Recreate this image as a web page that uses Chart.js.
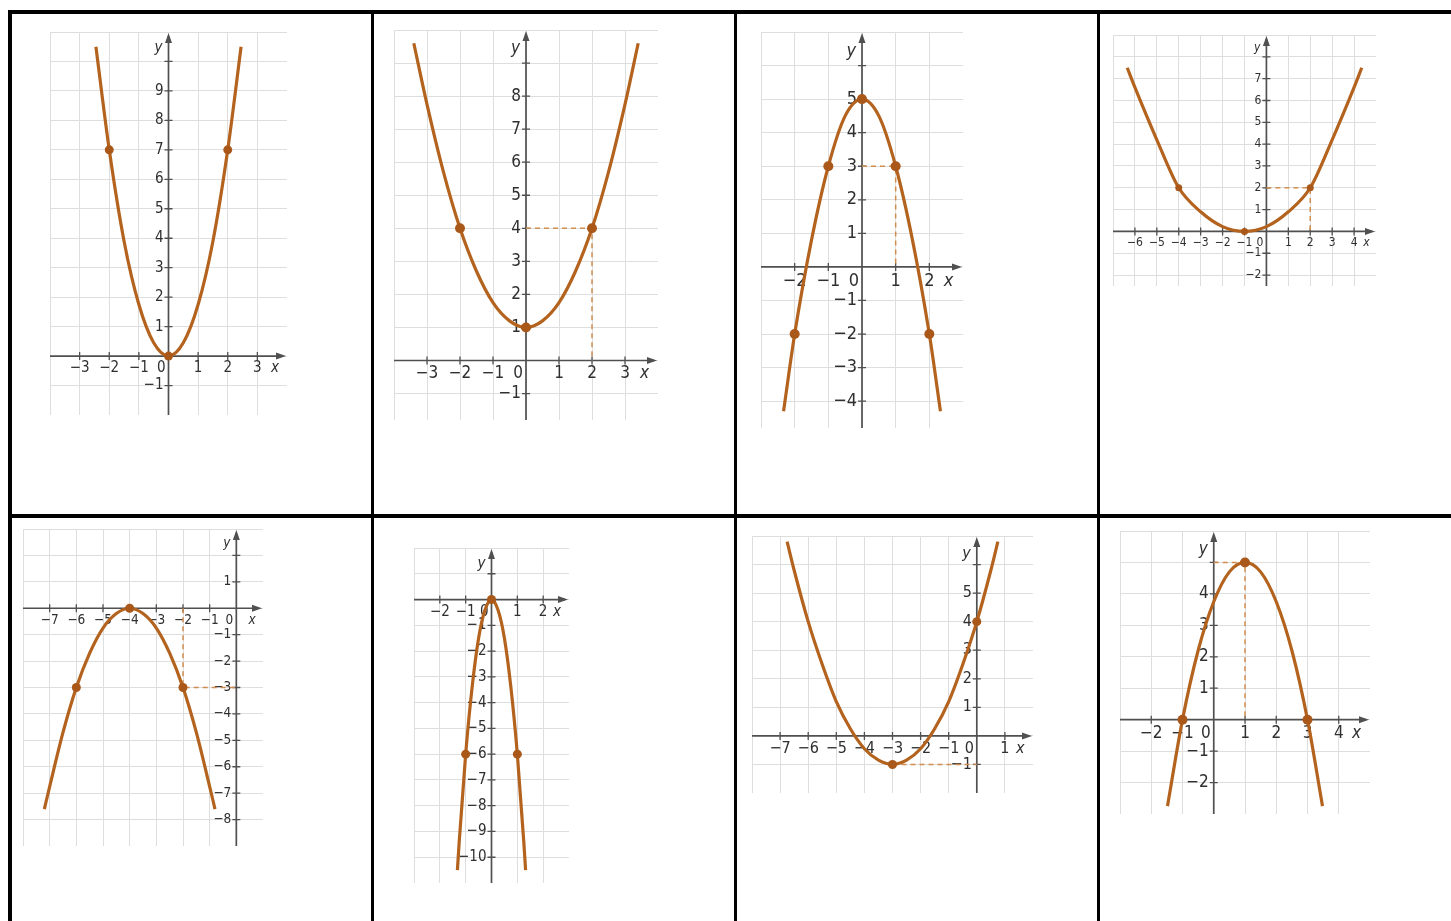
<!DOCTYPE html>
<html lang="en">
<head>
<meta charset="UTF-8">
<title>Parabola graphs</title>
<script src="https://cdn.jsdelivr.net/npm/chart.js"></script>
<style>
  body { margin: 0; background: #fff; }
  #page { position: relative; width: 1451px; height: 921px; overflow: hidden; }
  .rule { position: absolute; background: #000; }
  canvas { position: absolute; }
</style>
</head>
<body>
<div id="page">
  <div class="rule" style="left:8px;top:10px;width:1443px;height:4px"></div>
  <div class="rule" style="left:8px;top:514px;width:1443px;height:4px"></div>
  <div class="rule" style="left:8px;top:10px;width:4px;height:911px"></div>
  <div class="rule" style="left:371px;top:10px;width:3px;height:911px"></div>
  <div class="rule" style="left:734px;top:10px;width:3px;height:911px"></div>
  <div class="rule" style="left:1097px;top:10px;width:3px;height:911px"></div>
</div>

<script>
// graph 1
const curve1X = [-2.45, -2, -1.5, -1, -0.5, 0, 0.5, 1, 1.5, 2, 2.45];
const curve1Y = [10.5, 7, 3.9, 1.75, 0.45, 0, 0.45, 1.75, 3.9, 7, 10.5];
const dots1 = [[-2, 7], [0, 0], [2, 7]];
const guide1 = [];
const xLabels1 = [-3, -2, -1, 1, 2, 3];
const yLabels1 = [-1, 1, 2, 3, 4, 5, 6, 7, 8, 9];

// graph 2
const curve2X = [-3.4, -3, -2.5, -2, -1.5, -1, -0.5, 0, 0.5, 1, 1.5, 2, 2.5, 3, 3.4];
const curve2Y = [9.6, 7.75, 5.7, 4, 2.7, 1.75, 1.2, 1, 1.2, 1.75, 2.7, 4, 5.7, 7.75, 9.6];
const dots2 = [[-2, 4], [0, 1], [2, 4]];
const guide2 = [[0, 4], [2, 4], [2, 0]];
const xLabels2 = [-3, -2, -1, 1, 2, 3];
const yLabels2 = [-1, 1, 2, 3, 4, 5, 6, 7, 8];

// graph 3
const curve3X = [-2.33, -2, -1.5, -1, -0.5, 0, 0.5, 1, 1.5, 2, 2.33];
const curve3Y = [-4.3, -2, 0.8, 3, 4.5, 5, 4.5, 3, 0.8, -2, -4.3];
const dots3 = [[-2, -2], [-1, 3], [0, 5], [1, 3], [2, -2]];
const guide3 = [[0, 3], [1, 3], [1, 0]];
const xLabels3 = [-2, -1, 1, 2];
const yLabels3 = [-4, -3, -2, -1, 1, 2, 3, 4, 5];

// graph 4
const curve4X = [-6.35, -6, -5, -4, -3, -2, -1, 0, 1, 2, 3, 4, 4.35];
const curve4Y = [7.5, 6.6, 4.2, 2, 0.9, 0.22, 0, 0.22, 0.9, 2, 4.2, 6.6, 7.5];
const dots4 = [[-4, 2], [-1, 0], [2, 2]];
const guide4 = [[0, 2], [2, 2], [2, 0]];
const xLabels4 = [-6, -5, -4, -3, -2, -1, 1, 2, 3, 4];
const yLabels4 = [-2, -1, 1, 2, 3, 4, 5, 6, 7];

// graph 5
const curve5X = [-7.2, -7, -6.5, -6, -5.5, -5, -4.5, -4, -3.5, -3, -2.5, -2, -1.5, -1, -0.8];
const curve5Y = [-7.6, -6.75, -4.7, -3, -1.7, -0.75, -0.2, 0, -0.2, -0.75, -1.7, -3, -4.7, -6.75, -7.6];
const dots5 = [[-6, -3], [-4, 0], [-2, -3]];
const guide5 = [[-2, 0], [-2, -3], [0, -3]];
const xLabels5 = [-7, -6, -5, -4, -3, -2, -1];
const yLabels5 = [-8, -7, -6, -5, -4, -3, -2, -1, 1];

// graph 6
const curve6X = [-1.32, -1.25, -1, -0.75, -0.5, -0.25, 0, 0.25, 0.5, 0.75, 1, 1.25, 1.32];
const curve6Y = [-10.5, -9.4, -6, -3.4, -1.5, -0.4, 0, -0.4, -1.5, -3.4, -6, -9.4, -10.5];
const dots6 = [[-1, -6], [0, 0], [1, -6]];
const guide6 = [];
const xLabels6 = [-2, -1, 1, 2];
const yLabels6 = [-10, -9, -8, -7, -6, -5, -4, -3, -2, -1];

// graph 7
const curve7X = [-6.75, -6.5, -6, -5.5, -5, -4.5, -4, -3.5, -3, -2.5, -2, -1.5, -1, -0.5, 0, 0.5, 0.75];
const curve7Y = [6.8, 5.8, 4, 2.5, 1.2, 0.25, -0.45, -0.85, -1, -0.85, -0.45, 0.25, 1.2, 2.5, 4, 5.8, 6.8];
const dots7 = [[-3, -1], [0, 4]];
const guide7 = [[-3, -1], [0, -1]];
const xLabels7 = [-7, -6, -5, -4, -3, -2, -1, 1];
const yLabels7 = [-1, 1, 2, 3, 4, 5];

// graph 8
const curve8X = [-1.48, -1, -0.5, 0, 0.5, 1, 1.5, 2, 2.5, 3, 3.48];
const curve8Y = [-2.75, 0, 2.2, 3.75, 4.7, 5, 4.7, 3.75, 2.2, 0, -2.75];
const dots8 = [[-1, 0], [1, 5], [3, 0]];
const guide8 = [[0, 5], [1, 5], [1, 0]];
const xLabels8 = [-2, -1, 1, 2, 3, 4];
const yLabels8 = [-2, -1, 1, 2, 3, 4];

// where each grid sits on the page, and its axis ranges
const boxes = [
  { left: 50,   top: 32,  w: 237, h: 383, x: [-4, 4], y: [-2, 11],   font: 15,   r: 4.5 },
  { left: 394,  top: 30,  w: 264, h: 390, x: [-4, 4], y: [-1.8, 10], font: 17,   r: 5 },
  { left: 761,  top: 32,  w: 202, h: 396, x: [-3, 3], y: [-4.8, 7],  font: 18,   r: 5 },
  { left: 1113, top: 35,  w: 263, h: 251, x: [-7, 5], y: [-2.5, 9],  font: 12,   r: 3.5 },
  { left: 23,   top: 529, w: 240, h: 317, x: [-8, 1], y: [-9, 3],    font: 13.5, r: 4.5 },
  { left: 414,  top: 548, w: 155, h: 335, x: [-3, 3], y: [-11, 2],   font: 15,   r: 4.5 },
  { left: 752,  top: 536, w: 281, h: 257, x: [-8, 2], y: [-2, 7],    font: 16,   r: 4.5 },
  { left: 1120, top: 531, w: 250, h: 283, x: [-3, 5], y: [-3, 6],    font: 17,   r: 5 }
];

const graphs = [
  [curve1X, curve1Y, dots1, guide1, xLabels1, yLabels1],
  [curve2X, curve2Y, dots2, guide2, xLabels2, yLabels2],
  [curve3X, curve3Y, dots3, guide3, xLabels3, yLabels3],
  [curve4X, curve4Y, dots4, guide4, xLabels4, yLabels4],
  [curve5X, curve5Y, dots5, guide5, xLabels5, yLabels5],
  [curve6X, curve6Y, dots6, guide6, xLabels6, yLabels6],
  [curve7X, curve7Y, dots7, guide7, xLabels7, yLabels7],
  [curve8X, curve8Y, dots8, guide8, xLabels8, yLabels8]
];

const FONT = '"Liberation Sans Narrow", "DejaVu Sans Condensed", "Arial Narrow", sans-serif';
const AXIS = '#505050';
const TEXT = '#2f2f2f';
const fmt = v => (v < 0 ? '\u2212' + Math.abs(v) : String(v));

// axes through the origin, with arrows, small tick crosses and labels
const centerAxes = {
  id: 'centerAxes',
  beforeDatasetsDraw(chart, args, opts) {
    const { ctx, chartArea: a, scales: { x, y } } = chart;
    const x0 = x.getPixelForValue(0);
    const y0 = y.getPixelForValue(0);
    const fs = opts.font;
    ctx.save();
    ctx.strokeStyle = AXIS;
    ctx.fillStyle = AXIS;
    ctx.lineWidth = 1.7;

    ctx.beginPath();
    ctx.moveTo(a.left, y0);
    ctx.lineTo(a.right - 4, y0);
    ctx.moveTo(x0, a.bottom);
    ctx.lineTo(x0, a.top + 4);
    ctx.stroke();

    ctx.beginPath();
    ctx.moveTo(a.right - 1, y0);
    ctx.lineTo(a.right - 11, y0 - 3.5);
    ctx.lineTo(a.right - 11, y0 + 3.5);
    ctx.closePath();
    ctx.moveTo(x0, a.top + 1);
    ctx.lineTo(x0 - 3.5, a.top + 11);
    ctx.lineTo(x0 + 3.5, a.top + 11);
    ctx.closePath();
    ctx.fill();

    ctx.lineWidth = 1.3;
    ctx.beginPath();
    x.ticks.forEach(t => {
      if (t.value === 0 || t.value <= x.min || t.value >= x.max) return;
      const px = x.getPixelForValue(t.value);
      ctx.moveTo(px, y0 - 4);
      ctx.lineTo(px, y0 + 4);
    });
    y.ticks.forEach(t => {
      if (t.value === 0 || t.value <= y.min || t.value >= y.max) return;
      const py = y.getPixelForValue(t.value);
      ctx.moveTo(x0 - 4, py);
      ctx.lineTo(x0 + 4, py);
    });
    ctx.stroke();

    ctx.fillStyle = TEXT;
    ctx.font = fs + 'px ' + FONT;
    ctx.textAlign = 'center';
    ctx.textBaseline = 'top';
    opts.xLabels.forEach(v => ctx.fillText(fmt(v), x.getPixelForValue(v), y0 + 5));
    ctx.textAlign = 'right';
    ctx.fillText('0', x0 - 3, y0 + 5);
    ctx.textBaseline = 'middle';
    opts.yLabels.forEach(v => ctx.fillText(fmt(v), x0 - 5, y.getPixelForValue(v)));

    ctx.font = 'italic ' + fs + 'px ' + FONT;
    ctx.textAlign = 'center';
    ctx.textBaseline = 'top';
    ctx.fillText('x', a.right - fs * 0.8, y0 + 5);
    ctx.textAlign = 'right';
    ctx.fillText('y', x0 - 6, a.top + fs * 0.6);
    ctx.restore();
  }
};

const page = document.getElementById('page');

boxes.forEach((box, i) => {
  const [cx, cy, dots, guide, xl, yl] = graphs[i];
  const cv = document.createElement('canvas');
  cv.width = box.w;
  cv.height = box.h;
  cv.style.left = box.left + 'px';
  cv.style.top = box.top + 'px';
  page.appendChild(cv);

  const axisOpts = (range) => ({
    type: 'linear',
    min: range[0],
    max: range[1],
    ticks: { display: false, stepSize: 1, includeBounds: false },
    grid: { color: '#dedede', lineWidth: 1, drawTicks: false },
    border: { display: false }
  });

  new Chart(cv, {
    type: 'scatter',
    data: {
      datasets: [
        {
          data: dots.map(p => ({ x: p[0], y: p[1] })),
          showLine: false,
          pointRadius: box.r,
          pointBackgroundColor: '#a9581a',
          pointBorderWidth: 0,
          order: 0
        },
        {
          data: cx.map((v, k) => ({ x: v, y: cy[k] })),
          showLine: true,
          borderColor: '#b4631e',
          borderWidth: 3.2,
          pointRadius: 0,
          cubicInterpolationMode: 'monotone',
          order: 1
        },
        {
          data: guide.map(p => ({ x: p[0], y: p[1] })),
          showLine: true,
          borderColor: '#cf8d4f',
          borderWidth: 1.5,
          borderDash: [5, 4],
          pointRadius: 0,
          order: 2
        }
      ]
    },
    options: {
      responsive: false,
      devicePixelRatio: 1,
      animation: false,
      layout: { padding: 0, autoPadding: false },
      scales: { x: axisOpts(box.x), y: axisOpts(box.y) },
      plugins: {
        legend: { display: false },
        tooltip: { enabled: false },
        centerAxes: { xLabels: xl, yLabels: yl, font: box.font }
      }
    },
    plugins: [centerAxes]
  });
});
</script>
</body>
</html>
